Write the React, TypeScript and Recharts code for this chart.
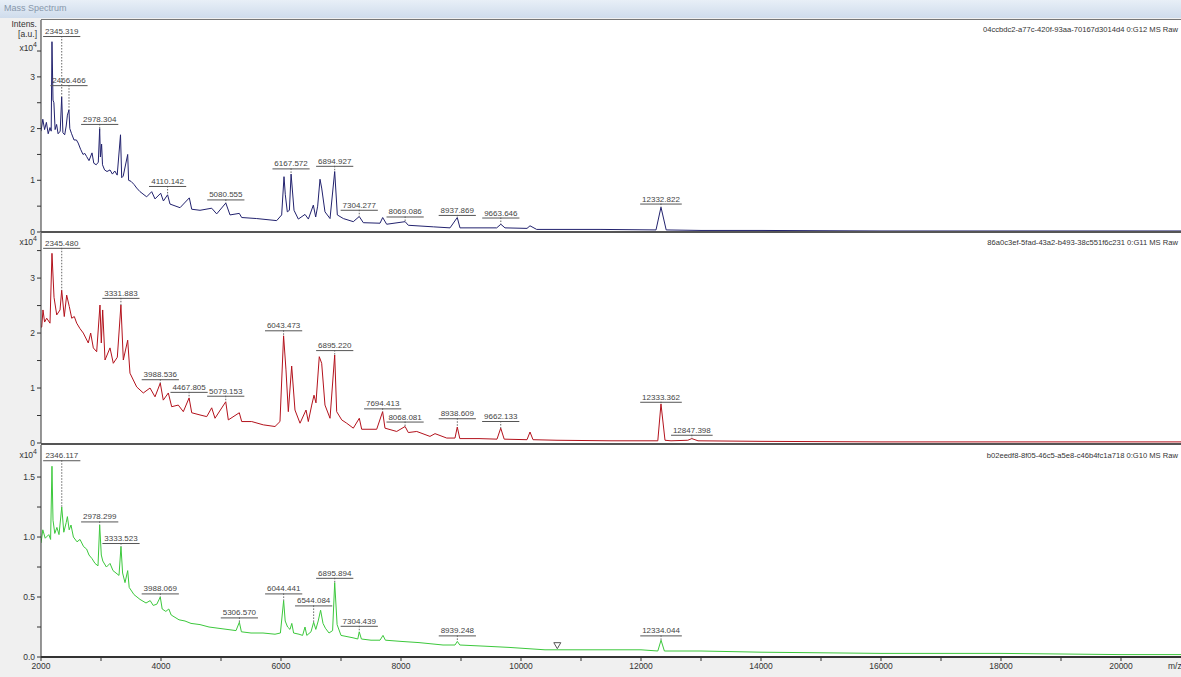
import { LineChart, Line, XAxis, YAxis, ReferenceLine, ReferenceDot } from "recharts";

const W = 1181;
const FONT = "'Liberation Sans', Arial, sans-serif";

// spectra as [m/z, intensity x10^4]
const specG12 = [
  [2000, 1.95], [2030, 2.18], [2060, 1.98], [2090, 2.12], [2120, 1.9], [2150, 2.02], [2170, 1.95], [2183, 3.68],
  [2200, 2.55], [2215, 2.5], [2235, 1.98], [2260, 2.08], [2285, 1.9], [2320, 1.95], [2345, 2.61], [2365, 1.92],
  [2395, 1.88], [2420, 2.05], [2440, 2.26], [2466, 2.36], [2480, 2.0], [2510, 1.9], [2550, 1.78], [2590, 1.78],
  [2620, 1.72], [2660, 1.6], [2700, 1.5], [2730, 1.52], [2760, 1.46], [2800, 1.38], [2850, 1.53], [2880, 1.33],
  [2920, 1.3], [2955, 1.35], [2978, 2.0], [2990, 1.45], [3010, 1.7], [3025, 1.3], [3060, 1.2], [3100, 1.17],
  [3150, 1.2], [3190, 1.12], [3230, 1.18], [3270, 1.1], [3325, 1.88], [3345, 1.05], [3370, 1.08], [3445, 1.5],
  [3460, 1.0], [3500, 0.98], [3550, 0.92], [3595, 0.85], [3650, 0.78], [3761, 0.68], [3845, 0.78], [3900, 0.64],
  [3995, 0.75], [4040, 0.6], [4110, 0.72], [4150, 0.54], [4317, 0.47], [4472, 0.66], [4512, 0.44], [4650, 0.42],
  [4845, 0.46], [4928, 0.35], [5080, 0.56], [5150, 0.33], [5305, 0.36], [5345, 0.28], [5595, 0.26], [5928, 0.22],
  [6011, 0.33], [6050, 1.07], [6072, 0.72], [6105, 0.39], [6140, 0.42], [6168, 1.12], [6217, 0.42], [6289, 0.25],
  [6400, 0.34], [6456, 0.25], [6539, 0.52], [6578, 0.29], [6611, 0.5], [6650, 1.02], [6678, 0.85], [6733, 0.39],
  [6817, 0.26], [6895, 1.17], [6939, 0.33], [7039, 0.26], [7205, 0.2], [7304, 0.3], [7372, 0.18], [7650, 0.17],
  [7695, 0.28], [7761, 0.15], [8069, 0.2], [8122, 0.13], [8538, 0.1], [8817, 0.08], [8938, 0.28], [8983, 0.08],
  [9595, 0.08], [9664, 0.15], [9733, 0.08], [10100, 0.07], [10150, 0.12], [10261, 0.05], [11317, 0.05], [12250, 0.04],
  [12333, 0.48], [12420, 0.04], [13000, 0.03], [14000, 0.03], [16000, 0.02], [18000, 0.02], [20000, 0.02], [21000, 0.02],
];

const specG11 = [
  [2000, 2.1], [2012, 2.11], [2033, 2.42], [2060, 2.2], [2095, 2.27], [2150, 2.18], [2183, 3.45], [2217, 2.65],
  [2262, 2.33], [2317, 2.42], [2345, 2.78], [2388, 2.3], [2428, 2.69], [2472, 2.48], [2512, 2.27], [2555, 2.3],
  [2595, 2.18], [2650, 2.08], [2705, 2.0], [2788, 1.82], [2828, 2.0], [2872, 1.73], [2928, 1.66], [2983, 2.51],
  [3005, 1.82], [3028, 2.42], [3067, 1.51], [3150, 1.73], [3205, 1.45], [3272, 1.56], [3332, 2.51], [3372, 1.51],
  [3445, 1.87], [3483, 1.27], [3595, 1.02], [3705, 0.91], [3817, 1.0], [3900, 0.84], [3988, 1.09], [4038, 0.78],
  [4122, 0.91], [4178, 0.66], [4288, 0.69], [4372, 0.57], [4468, 0.82], [4512, 0.55], [4650, 0.51], [4762, 0.48],
  [4845, 0.64], [4900, 0.45], [5079, 0.75], [5122, 0.42], [5305, 0.55], [5345, 0.39], [5512, 0.39], [5705, 0.33],
  [5900, 0.3], [5983, 0.39], [6043, 1.95], [6083, 1.33], [6122, 0.57], [6178, 1.4], [6233, 0.6], [6317, 0.36],
  [6417, 0.6], [6455, 0.39], [6512, 0.69], [6550, 0.87], [6583, 0.73], [6638, 1.57], [6678, 1.45], [6733, 0.69],
  [6817, 0.45], [6895, 1.6], [6928, 0.57], [7012, 0.42], [7095, 0.36], [7205, 0.27], [7305, 0.45], [7345, 0.25],
  [7595, 0.25], [7694, 0.57], [7733, 0.27], [7928, 0.21], [8068, 0.3], [8122, 0.19], [8262, 0.21], [8483, 0.12],
  [8567, 0.17], [8762, 0.09], [8900, 0.09], [8938, 0.29], [8980, 0.08], [9300, 0.08], [9600, 0.07], [9662, 0.27],
  [9720, 0.07], [10100, 0.06], [10150, 0.2], [10200, 0.06], [10600, 0.05], [11500, 0.04], [12280, 0.04], [12333, 0.71],
  [12400, 0.05], [12500, 0.04], [12780, 0.05], [12847, 0.08], [12950, 0.04], [14000, 0.03], [16000, 0.02], [18000, 0.02],
  [20000, 0.02], [21000, 0.02],
];

const specG10 = [
  [2000, 0.95], [2030, 1.06], [2070, 0.99], [2130, 1.02], [2160, 0.98], [2183, 1.59], [2200, 1.14], [2230, 1.03],
  [2265, 1.08], [2300, 1.02], [2346, 1.25], [2380, 1.04], [2420, 1.12], [2440, 1.17], [2470, 1.06], [2500, 1.1],
  [2540, 1.0], [2600, 0.96], [2650, 0.98], [2710, 0.92], [2760, 0.9], [2800, 0.85], [2850, 0.82], [2900, 0.78],
  [2950, 0.76], [2978, 1.1], [3005, 0.85], [3030, 0.8], [3090, 0.75], [3150, 0.78], [3200, 0.72], [3250, 0.7],
  [3300, 0.68], [3333, 0.92], [3360, 0.7], [3400, 0.62], [3445, 0.72], [3470, 0.58], [3550, 0.52], [3650, 0.48],
  [3750, 0.45], [3820, 0.47], [3870, 0.43], [3930, 0.44], [3988, 0.5], [4020, 0.4], [4080, 0.38], [4130, 0.4],
  [4170, 0.35], [4300, 0.31], [4400, 0.3], [4500, 0.28], [4650, 0.27], [4800, 0.25], [4950, 0.24], [5100, 0.23],
  [5250, 0.22], [5306, 0.29], [5340, 0.21], [5500, 0.2], [5700, 0.2], [5900, 0.19], [5990, 0.2], [6044, 0.47],
  [6070, 0.3], [6110, 0.25], [6150, 0.23], [6180, 0.28], [6210, 0.2], [6300, 0.19], [6360, 0.18], [6400, 0.25],
  [6430, 0.18], [6500, 0.21], [6544, 0.29], [6580, 0.23], [6620, 0.3], [6660, 0.39], [6700, 0.28], [6740, 0.24],
  [6800, 0.2], [6860, 0.22], [6895, 0.62], [6935, 0.27], [7000, 0.18], [7100, 0.17], [7200, 0.16], [7280, 0.15],
  [7304, 0.21], [7340, 0.15], [7500, 0.14], [7650, 0.14], [7700, 0.18], [7740, 0.14], [8000, 0.13], [8300, 0.12],
  [8700, 0.1], [8900, 0.1], [8939, 0.13], [8980, 0.1], [9400, 0.09], [9800, 0.08], [10400, 0.06], [11000, 0.06],
  [12000, 0.06], [12280, 0.05], [12334, 0.14], [12390, 0.05], [13000, 0.05], [14000, 0.04], [16000, 0.03], [18000, 0.03],
  [20000, 0.02], [21000, 0.02],
];

// annotated peaks: [m/z, peak intensity, label level]
const peaksG12 = [
  [2345.319, 2.61, 3.79], [2466.466, 2.36, 2.84], [2978.304, 2.0, 2.09], [4110.142, 0.72, 0.89],
  [5080.555, 0.56, 0.63], [6167.572, 1.12, 1.23], [6894.927, 1.17, 1.28], [7304.277, 0.3, 0.43],
  [8069.086, 0.2, 0.3], [8937.869, 0.28, 0.33], [9663.646, 0.15, 0.28], [12332.822, 0.48, 0.55],
];
const peaksG11 = [
  [2345.48, 2.78, 3.55], [3331.883, 2.51, 2.64], [3988.536, 1.09, 1.16], [4467.805, 0.82, 0.93],
  [5079.153, 0.75, 0.86], [6043.473, 1.95, 2.05], [6895.22, 1.6, 1.69], [7694.413, 0.57, 0.63],
  [8068.081, 0.3, 0.39], [8938.609, 0.29, 0.45], [9662.133, 0.27, 0.4], [12333.362, 0.71, 0.75],
  [12847.398, 0.08, 0.15],
];
const peaksG10 = [
  [2346.117, 1.25, 1.64], [2978.299, 1.1, 1.13], [3333.523, 0.92, 0.95], [3988.069, 0.5, 0.53],
  [5306.57, 0.29, 0.33], [6044.441, 0.47, 0.53], [6544.084, 0.29, 0.43], [6895.894, 0.62, 0.66],
  [7304.439, 0.21, 0.26], [8939.248, 0.13, 0.18], [12334.044, 0.14, 0.18],
];

const xTicks = [2000, 3000, 4000, 5000, 6000, 7000, 8000, 9000, 10000, 11000, 12000, 13000, 14000, 15000, 16000, 17000, 18000, 19000, 20000];
const yTicksBig = [0, 0.5, 1, 1.5, 2, 2.5, 3, 3.5];
const yTicksSmall = [0, 0.25, 0.5, 0.75, 1, 1.25, 1.5];

const PeakLabel = ({ cx, cy, text }: any) => {
  const half = text.length * 2.2 + 1;
  return (
    <g>
      <text x={cx} y={cy - 2} textAnchor="middle" fontSize={8} fill="#444" fontFamily={FONT}>{text}</text>
      <line x1={cx - half} x2={cx + half} y1={cy + 0.5} y2={cy + 0.5} stroke="#555" strokeWidth={1} />
    </g>
  );
};

const Triangle = ({ cx, cy }: any) => (
  <path d={`M${cx - 3.5},${cy - 4} L${cx + 3.5},${cy - 4} L${cx},${cy + 2} Z`} fill="none" stroke="#555" strokeWidth={1} />
);

const Panel = ({ spec, peaks, color, yMax, yTicks, yFmt, height, showX, marker }: any) => {
  const data = spec.map((p: number[]) => ({ mz: p[0], v: p[1] }));
  return (
    <LineChart width={W} height={height} data={data} margin={{ top: 0, right: 0, bottom: 0, left: 0 }} style={{ fontFamily: FONT }}>
      <XAxis
        dataKey="mz"
        type="number"
        domain={[2000, 21000]}
        ticks={xTicks}
        interval={0}
        hide={!showX}
        height={20}
        tickSize={4}
        tick={{ fontSize: 8.5, fill: "#333" }}
        tickFormatter={(v: number) => (v % 2000 === 0 ? String(v) : "")}
        axisLine={{ stroke: "#333", strokeWidth: 2 }}
        tickLine={{ stroke: "#333" }}
        allowDataOverflow
      />
      <YAxis
        type="number"
        domain={[0, yMax]}
        ticks={yTicks}
        interval={0}
        width={41}
        tickSize={4}
        tick={{ fontSize: 8.5, fill: "#333" }}
        tickFormatter={yFmt}
        axisLine={{ stroke: "#333" }}
        tickLine={{ stroke: "#333" }}
        allowDataOverflow
      />
      <Line type="linear" dataKey="v" stroke={color} strokeWidth={1} dot={false} isAnimationActive={false} />
      {peaks.map((p: number[], i: number) => (
        <ReferenceLine
          key={"s" + i}
          segment={[{ x: p[0], y: p[2] }, { x: p[0], y: p[1] }]}
          stroke="#666"
          strokeDasharray="1.5 1.5"
          ifOverflow="visible"
        />
      ))}
      {peaks.map((p: number[], i: number) => (
        <ReferenceDot
          key={"d" + i}
          x={p[0]}
          y={p[2]}
          r={1}
          ifOverflow="visible"
          shape={(s: any) => <PeakLabel cx={s.cx} cy={s.cy} text={p[0].toFixed(3)} />}
        />
      ))}
      {marker && (
        <ReferenceDot x={marker[0]} y={marker[1]} r={1} ifOverflow="visible" shape={(s: any) => <Triangle cx={s.cx} cy={s.cy} />} />
      )}
    </LineChart>
  );
};

const intFmt = (v: number) => (Number.isInteger(v) ? String(v) : "");
const halfFmt = (v: number) => (Math.abs(v * 2 - Math.round(v * 2)) < 1e-6 ? v.toFixed(1) : "");

const idStyle: any = { position: "absolute", right: 3, fontSize: 7.6, color: "#333", whiteSpace: "nowrap" };
const unitStyle: any = { position: "absolute", right: W - 37, fontSize: 8.5, color: "#333", textAlign: "right", whiteSpace: "nowrap", lineHeight: "10px" };

export default function App() {
  return (
    <div style={{ position: "relative", width: W, height: 677, background: "#f0f0f0", overflow: "hidden", fontFamily: FONT }}>
      <style>{"body{margin:0} .recharts-surface{overflow:visible}"}</style>
      <div style={{ position: "absolute", left: 0, top: 0, width: W, height: 18, background: "linear-gradient(#e8eff7, #cfdcec)" }}>
        <span style={{ position: "absolute", left: 4, top: 3, fontSize: 9, color: "#8797ab" }}>Mass Spectrum</span>
      </div>
      <div style={{ position: "absolute", left: 41, top: 20, width: W - 41, height: 637, background: "#fff" }} />

      <div style={{ position: "absolute", left: 0, top: 20 }}>
        <Panel spec={specG12} peaks={peaksG12} color="#22226e" yMax={4.1} yTicks={yTicksBig} yFmt={intFmt} height={212} />
      </div>
      <div style={{ position: "absolute", left: 0, top: 233 }}>
        <Panel spec={specG11} peaks={peaksG11} color="#b3121c" yMax={3.82} yTicks={yTicksBig} yFmt={intFmt} height={210} />
      </div>
      <div style={{ position: "absolute", left: 0, top: 445 }}>
        <Panel spec={specG10} peaks={peaksG10} color="#3cc83c" yMax={1.767} yTicks={yTicksSmall} yFmt={halfFmt} height={232} showX marker={[10605, 0.086]} />
      </div>

      <div style={{ position: "absolute", left: 41, top: 19, width: W - 41, height: 1, background: "#777" }} />
      <div style={{ position: "absolute", left: 41, top: 231, width: W - 41, height: 2, background: "#555" }} />
      <div style={{ position: "absolute", left: 41, top: 443, width: W - 41, height: 2, background: "#555" }} />

      <div style={{ ...unitStyle, top: 19 }}>Intens.</div>
      <div style={{ ...unitStyle, top: 29 }}>[a.u.]</div>
      <div style={{ ...unitStyle, top: 40 }}>x10<sup style={{ fontSize: 7 }}>4</sup></div>
      <div style={{ ...unitStyle, top: 234 }}>x10<sup style={{ fontSize: 7 }}>4</sup></div>
      <div style={{ ...unitStyle, top: 447 }}>x10<sup style={{ fontSize: 7 }}>4</sup></div>

      <div style={{ ...idStyle, top: 25 }}>04ccbdc2-a77c-420f-93aa-70167d3014d4 0:G12 MS Raw</div>
      <div style={{ ...idStyle, top: 238 }}>86a0c3ef-5fad-43a2-b493-38c551f6c231 0:G11 MS Raw</div>
      <div style={{ ...idStyle, top: 451 }}>b02eedf8-8f05-46c5-a5e8-c46b4fc1a718 0:G10 MS Raw</div>

      <div style={{ position: "absolute", left: 1168, top: 661, fontSize: 8.5, color: "#333" }}>m/z</div>
    </div>
  );
}
